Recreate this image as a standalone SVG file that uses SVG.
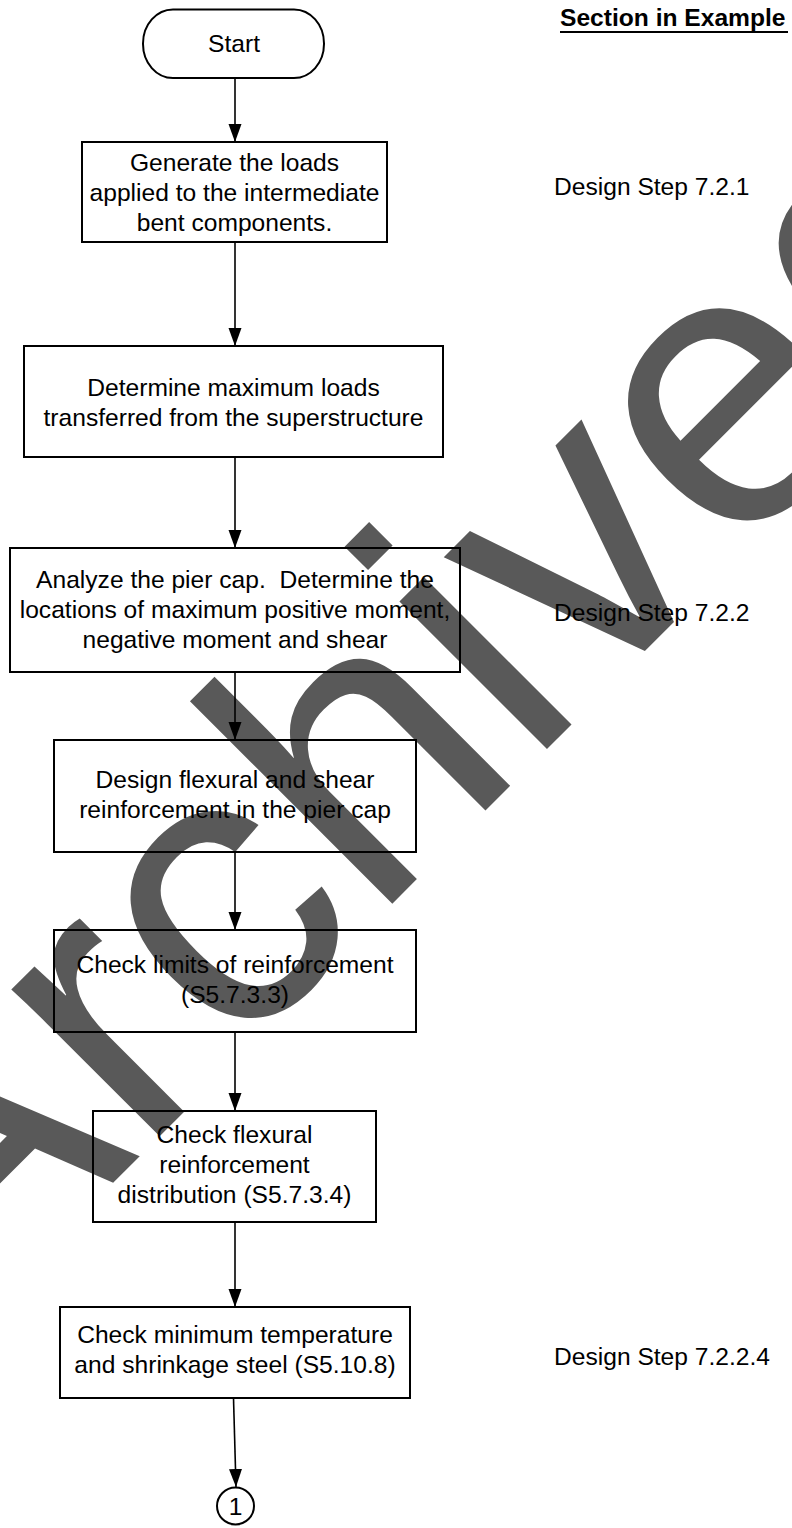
<svg xmlns="http://www.w3.org/2000/svg" width="792" height="1528" viewBox="0 0 792 1528">
<style>
text{font-family:"Liberation Sans",Arial,sans-serif;font-size:24.6px;fill:#000}
.c{text-anchor:middle}
.box{fill:none;stroke:#000;stroke-width:2}
.conn{fill:none;stroke:#000;stroke-width:1.6}
.wm{font-size:395px;fill:#595959}
.hdr{font-weight:bold}
</style>
<defs>
<marker id="ah" markerUnits="userSpaceOnUse" markerWidth="19" markerHeight="14" refX="18" refY="6.5" orient="auto">
<path d="M0,0 L18,6.5 L0,13 z" fill="#000"/>
</marker>
</defs>
<rect width="792" height="1528" fill="#fff"/>
<g id="watermark">
<text class="wm" transform="translate(-46,1342) rotate(-45)">Archived</text>
</g>
<g id="header">
<text class="hdr" x="560" y="26">Section in Example</text>
<line x1="560" y1="32" x2="788" y2="32" stroke="#000" stroke-width="2"/>
</g>
<g id="labels">
<text x="554" y="195">Design Step 7.2.1</text>
<text x="554" y="621">Design Step 7.2.2</text>
<text x="554" y="1365">Design Step 7.2.2.4</text>
</g>
<g id="connectors">
<line class="conn" x1="235" y1="78" x2="235" y2="142" marker-end="url(#ah)"/>
<line class="conn" x1="235" y1="242" x2="235" y2="346" marker-end="url(#ah)"/>
<line class="conn" x1="235" y1="457" x2="235" y2="548" marker-end="url(#ah)"/>
<line class="conn" x1="235" y1="672" x2="235" y2="740" marker-end="url(#ah)"/>
<line class="conn" x1="235" y1="852" x2="235" y2="930" marker-end="url(#ah)"/>
<line class="conn" x1="235" y1="1032" x2="235" y2="1111" marker-end="url(#ah)"/>
<line class="conn" x1="235" y1="1222" x2="235" y2="1307" marker-end="url(#ah)"/>
<line class="conn" x1="233.5" y1="1398" x2="236" y2="1487" marker-end="url(#ah)"/>
</g>
<g id="start">
<rect class="box" x="143" y="9.5" width="181" height="68.5" rx="30" ry="34"/>
<text class="c" x="234" y="52">Start</text>
</g>
<g id="n1">
<rect class="box" x="82" y="142" width="305" height="100"/>
<text class="c" x="234.5" y="171">Generate the loads</text>
<text class="c" x="234.5" y="201">applied to the intermediate</text>
<text class="c" x="234.5" y="231">bent components.</text>
</g>
<g id="n2">
<rect class="box" x="24" y="346" width="419" height="111"/>
<text class="c" x="233.5" y="396">Determine maximum loads</text>
<text class="c" x="233.5" y="426">transferred from the superstructure</text>
</g>
<g id="n3">
<rect class="box" x="10" y="548" width="450" height="124"/>
<text class="c" x="235" y="588" xml:space="preserve">Analyze the pier cap.  Determine the</text>
<text class="c" x="235" y="618">locations of maximum positive moment,</text>
<text class="c" x="235" y="648">negative moment and shear</text>
</g>
<g id="n4">
<rect class="box" x="54" y="740" width="362" height="112"/>
<text class="c" x="235" y="788">Design flexural and shear</text>
<text class="c" x="235" y="818">reinforcement in the pier cap</text>
</g>
<g id="n5">
<rect class="box" x="54" y="930" width="362" height="102"/>
<text class="c" x="235" y="973">Check limits of reinforcement</text>
<text class="c" x="235" y="1003">(S5.7.3.3)</text>
</g>
<g id="n6">
<rect class="box" x="93" y="1111" width="283" height="111"/>
<text class="c" x="234.5" y="1143">Check flexural</text>
<text class="c" x="234.5" y="1173">reinforcement</text>
<text class="c" x="234.5" y="1203">distribution (S5.7.3.4)</text>
</g>
<g id="n7">
<rect class="box" x="60" y="1307" width="350" height="91"/>
<text class="c" x="235" y="1343">Check minimum temperature</text>
<text class="c" x="235" y="1373">and shrinkage steel (S5.10.8)</text>
</g>
<g id="offpage1">
<circle class="box" cx="235.5" cy="1506" r="18.5"/>
<text class="c" x="235.5" y="1515">1</text>
</g>
</svg>
